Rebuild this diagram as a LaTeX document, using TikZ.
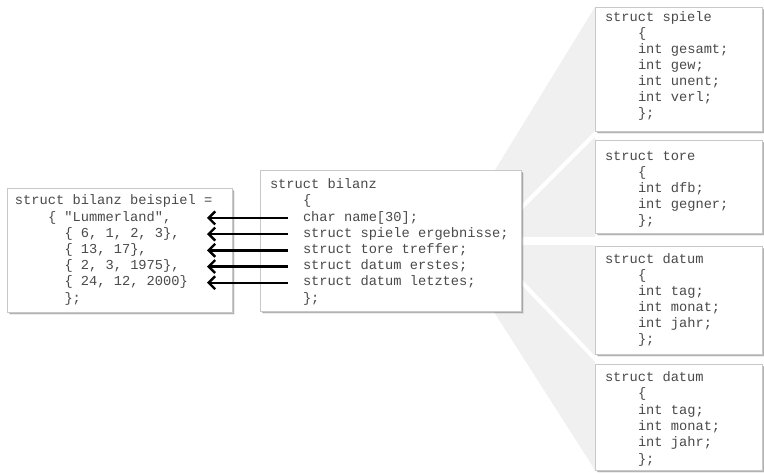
\documentclass[tikz,border=0pt]{standalone}
\usepackage{fontspec}
\setmonofont{Liberation Mono}
\usetikzlibrary{arrows.meta,shadows}

\definecolor{codegray}{HTML}{4A4A4A}
\definecolor{fanfill}{HTML}{F0F0F0}
\definecolor{boxline}{HTML}{C8C8C8}

\tikzset{
  panel/.style={draw=boxline, line width=0.8pt, fill=white, anchor=north west,
    inner sep=0pt, outer sep=0pt,
    drop shadow={shadow xshift=3.2pt, shadow yshift=-3.2pt, opacity=0.07, fill=black},
    drop shadow={shadow xshift=2.4pt, shadow yshift=-2.4pt, opacity=0.10, fill=black},
    drop shadow={shadow xshift=1.6pt, shadow yshift=-1.6pt, opacity=0.16, fill=black}},
  codeline/.style={anchor=west, inner sep=0pt, outer sep=0pt,
    text height=9.5pt, text depth=3pt, text=codegray,
    font=\ttfamily\fontsize{13.7}{16}\selectfont},
  link/.style={line width=2.4pt, black,
    -{Straight Barb[length=6.5pt,width=13pt]}},
  gap/.style={draw=white, line width=#1},
}

\begin{document}
\begin{tikzpicture}[x=1pt, y=-1pt]
\useasboundingbox (0,0) rectangle (764,474);

% fan joining the main struct to the nested structs
\fill[fanfill] (495,170) -- (595,7) -- (595,470) -- (494,312) -- cycle;
\draw[gap=4pt] (598,131) -- (512,217);
\draw[gap=7.5pt] (512,241) -- (598,241);
\draw[gap=4pt] (598,362) -- (512,272);

% panels
\node[panel, minimum width=225pt, minimum height=124pt] (lbox) at (7,188) {};
\node[panel, minimum width=261pt, minimum height=141pt] (mbox) at (260,170) {};
\node[panel, minimum width=167pt, minimum height=124pt] (sp) at (595,7) {};
\node[panel, minimum width=167pt, minimum height=93pt] (to) at (595,140) {};
\node[panel, minimum width=167pt, minimum height=108pt] (d1) at (595,246) {};
\node[panel, minimum width=167pt, minimum height=106pt] (d2) at (595,364) {};

% initialiser
\node[codeline] (l1) at (15,201.7) {struct bilanz beispiel =};
\node[codeline] (l2) at (48,217.9) {\{ "Lummerland",};
\node[codeline] (l3) at (64.5,234.1) {\{ 6, 1, 2, 3\},};
\node[codeline] (l4) at (64.5,250.3) {\{ 13, 17\},};
\node[codeline] (l5) at (64.5,266.5) {\{ 2, 3, 1975\},};
\node[codeline] (l6) at (64.5,282.7) {\{ 24, 12, 2000\}};
\node[codeline] (l7) at (64.5,298.9) {\};};

% struct bilanz
\node[codeline] (m1) at (270,185.5) {struct bilanz};
\node[codeline] (m2) at (303,201.7) {\{};
\node[codeline] (m3) at (303,217.9) {char name[30];};
\node[codeline] (m4) at (303,234.1) {struct spiele ergebnisse;};
\node[codeline] (m5) at (303,250.3) {struct tore treffer;};
\node[codeline] (m6) at (303,266.5) {struct datum erstes;};
\node[codeline] (m7) at (303,282.7) {struct datum letztes;};
\node[codeline] (m8) at (303,298.9) {\};};

% struct spiele
\node[codeline] (s1) at (605,18) {struct spiele};
\node[codeline] (s2) at (638,34) {\{};
\node[codeline] (s3) at (638,50) {int gesamt;};
\node[codeline] (s4) at (638,66) {int gew;};
\node[codeline] (s5) at (638,82) {int unent;};
\node[codeline] (s6) at (638,98) {int verl;};
\node[codeline] (s7) at (638,114) {\};};

% struct tore
\node[codeline] (t1) at (605,157) {struct tore};
\node[codeline] (t2) at (638,173) {\{};
\node[codeline] (t3) at (638,189) {int dfb;};
\node[codeline] (t4) at (638,205) {int gegner;};
\node[codeline] (t5) at (638,221) {\};};

% struct datum (erstes)
\node[codeline] (a1) at (605,260) {struct datum};
\node[codeline] (a2) at (638,276) {\{};
\node[codeline] (a3) at (638,292) {int tag;};
\node[codeline] (a4) at (638,308) {int monat;};
\node[codeline] (a5) at (638,324) {int jahr;};
\node[codeline] (a6) at (638,340) {\};};

% struct datum (letztes)
\node[codeline] (b1) at (605,378) {struct datum};
\node[codeline] (b2) at (638,394.4) {\{};
\node[codeline] (b3) at (638,410.8) {int tag;};
\node[codeline] (b4) at (638,427.2) {int monat;};
\node[codeline] (b5) at (638,443.6) {int jahr;};
\node[codeline] (b6) at (638,460) {\};};

% member -> initialiser value
\coordinate (tip) at (207,0);
\draw[link] ([xshift=-15pt]m3.west) -- (m3.west -| tip);
\draw[link] ([xshift=-15pt]m4.west) -- (m4.west -| tip);
\draw[link] ([xshift=-15pt]m5.west) -- (m5.west -| tip);
\draw[link] ([xshift=-15pt]m6.west) -- (m6.west -| tip);
\draw[link] ([xshift=-15pt]m7.west) -- (m7.west -| tip);
\end{tikzpicture}
\end{document}
